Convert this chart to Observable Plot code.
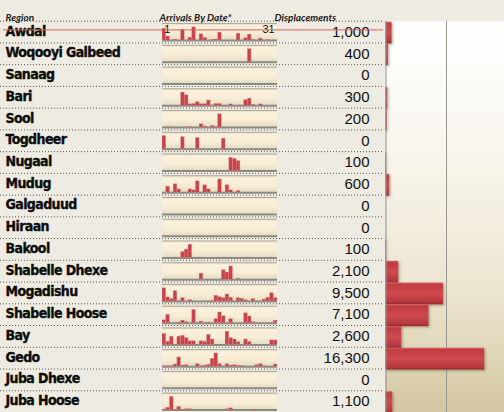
<!DOCTYPE html>
<html><head><meta charset="utf-8">
<script src="https://cdn.jsdelivr.net/npm/d3@7"></script>
<script src="https://cdn.jsdelivr.net/npm/@observablehq/plot@0.6"></script>
<style>
html,body{margin:0;padding:0;background:#eeebe2;overflow:hidden;}
#chart{position:relative;width:504px;height:412px;overflow:hidden;background:#eeebe2;}
#chart svg{position:absolute;top:0;}
</style></head><body><div id="chart"></div>
<script>
// ---------- DATA ----------
const regions = ["Awdal","Woqooyi Galbeed","Sanaag","Bari","Sool","Togdheer","Nugaal","Mudug","Galgaduud","Hiraan","Bakool","Shabelle Dhexe","Mogadishu","Shabelle Hoose","Bay","Gedo","Juba Dhexe","Juba Hoose"];
const displacements = [1000,400,0,300,200,0,100,600,0,0,100,2100,9500,7100,2600,16300,0,1100];
const days = [1,2,3,4,5,6,7,8,9,10,11,12,13,14,15,16,17,18,19,20,21,22,23,24,25,26,27,28,29,30,31];
const dayTickLabels = [1, 31];
const headers = ["Region", "Arrivals By Date*", "Displacements"];
const barGridValues = [10000];

// arrivals by date (relative bar heights read from the sparklines)
const awdal          = [90,30,0,7,0,80,0,22,100,0,48,20,0,6,8,60,0,0,0,0,52,0,18,45,6,0,15,0,5,0,0];
const woqooyiGalbeed = [0,0,0,0,0,0,0,2,0,2,0,0,0,3,0,0,0,0,0,0,0,0,0,100,0,0,0,0,0,0,0];
const sanaag         = [0,0,0,0,0,0,0,0,0,0,0,0,0,0,0,0,0,0,0,0,0,0,0,0,0,0,0,0,0,0,0];
const bari           = [0,0,0,0,0,100,80,11,14,28,12,12,40,3,14,14,0,0,11,0,3,0,43,54,8,0,11,0,0,0,0];
const sool           = [0,5,0,0,0,0,0,5,0,0,25,8,0,12,5,100,0,0,0,0,0,0,0,0,0,0,0,0,0,0,0];
const togdheer       = [100,0,0,0,0,92,0,0,0,85,0,0,0,0,0,0,80,0,0,0,0,0,0,0,0,0,0,0,0,0,0];
const nugaal         = [0,0,0,0,0,0,0,0,0,0,0,0,0,0,0,0,0,0,100,92,75,0,0,0,0,0,0,0,0,0,0];
const mudug          = [0,46,0,64,25,0,0,25,18,86,0,57,25,0,0,100,0,57,18,0,14,0,0,0,0,0,0,0,0,0,0];
const galgaduud      = [0,0,0,0,0,0,0,0,0,0,0,0,0,0,0,0,0,0,0,0,0,0,0,0,0,0,0,0,0,0,0];
const hiraan         = [0,0,0,0,0,0,0,0,0,0,0,0,0,0,0,0,0,0,0,0,0,0,0,0,0,0,0,0,0,0,0];
const bakool         = [0,0,0,0,0,45,63,100,0,0,0,0,0,0,0,0,0,0,0,0,0,0,0,0,0,0,0,0,0,0,0];
const shabelleDhexe  = [0,0,0,0,0,0,0,0,0,0,46,0,0,0,0,0,72,54,100,0,8,0,0,0,0,0,0,0,0,0,0];
const mogadishu      = [100,30,18,78,0,25,0,10,0,0,0,0,0,5,43,33,25,53,28,0,25,20,10,0,18,0,0,15,28,63,25];
const shabelleHoose  = [22,63,0,0,5,19,9,0,100,0,12,0,5,0,31,81,53,0,31,0,0,0,75,50,9,0,0,0,0,0,19];
const bay            = [83,24,62,0,62,69,52,28,28,0,28,24,76,41,0,0,0,100,52,41,21,0,41,21,0,0,0,0,0,34,34];
const gedo           = [4,4,4,16,70,8,11,0,0,19,5,8,14,59,100,19,0,19,8,11,6,6,0,0,0,11,19,5,0,0,16];
const jubaDhexe      = [0,0,0,0,0,0,0,0,0,0,0,0,0,0,0,0,0,0,0,0,0,0,0,0,0,0,0,0,0,0,0];
const jubaHoose      = [4,18,100,0,25,0,7,7,0,0,0,0,0,0,0,0,0,7,14,0,0,0,0,0,4,0,0,0,0,0,0];
const arrivalSeries = [awdal,woqooyiGalbeed,sanaag,bari,sool,togdheer,nugaal,mudug,galgaduud,hiraan,bakool,shabelleDhexe,mogadishu,shabelleHoose,bay,gedo,jubaDhexe,jubaHoose];

// ---------- TABLES ----------
const rows = regions.map((r, i) => ({region: r, i, value: displacements[i]}));
const spark = [];
regions.forEach((r, i) => {
  const s = arrivalSeries[i];
  const m = d3.max(s);
  days.forEach((d, j) => spark.push({region: r, day: d, v: s[j], norm: m > 0 ? s[j] / m : 0}));
});

// ---------- LAYOUT ----------
const H = 412, TOP = 20.7;
const chart = document.getElementById("chart");
const NS = "http://www.w3.org/2000/svg";
function addDefs(svg, html) {
  const defs = document.createElementNS(NS, "defs");
  defs.innerHTML = html;
  svg.insertBefore(defs, svg.firstChild);
}
const labelFont = "'DejaVu Sans Condensed', 'DejaVu Sans', sans-serif";
const numFont = "'Liberation Sans', Arial, sans-serif";
const headFont = "Lato, 'Open Sans', sans-serif";

// Sparkline column
const sparkPlot = Plot.plot({
  width: 115, height: H,
  marginTop: TOP, marginBottom: 0, marginLeft: 0, marginRight: 0,
  style: {background: "transparent"},
  facet: {data: spark, y: "region"},
  fy: {domain: regions, paddingInner: 0.22, paddingOuter: 0.11, round: false, axis: null, label: null},
  x: {type: "band", domain: days, padding: 0, round: false, axis: null},
  y: {domain: [0, 1.28], axis: null},
  marks: [
    Plot.frame({fill: "url(#sparkBg)", stroke: "none"}),
    Plot.ruleY([1.28], {stroke: "#a8a49a", strokeWidth: 1}),
    Plot.ruleY([0], {stroke: "#8d8a80", strokeWidth: 2}),
    Plot.barY(spark, {filter: d => d.v > 0, x: "day", y: "norm", fill: "#c8444a", stroke: "#e6a19f", strokeWidth: 0.4, strokeOpacity: 0.6}),
    Plot.text(spark, {filter: d => d.region === regions[0] && d.day === dayTickLabels[0], x: "day", text: d => String(d.day),
      frameAnchor: "top", lineAnchor: "top", textAnchor: "start", dy: 1.5, dx: 0, fontSize: 11, fontFamily: numFont, fill: "#111"}),
    Plot.text(spark, {filter: d => d.region === regions[0] && d.day === dayTickLabels[1], x: "day", text: d => String(d.day),
      frameAnchor: "top", lineAnchor: "top", textAnchor: "end", dy: 1.5, dx: -1, fontSize: 11, fontFamily: numFont, fill: "#111"})
  ]
});
addDefs(sparkPlot, `<linearGradient id="sparkBg" x1="0" y1="0" x2="0" y2="1">
  <stop offset="0" stop-color="#efe3c6"/><stop offset="0.15" stop-color="#fbf1dc"/>
  <stop offset="0.6" stop-color="#f7ecd5"/><stop offset="0.88" stop-color="#e9e0c8"/>
  <stop offset="1" stop-color="#d8d0ba"/></linearGradient>`);
sparkPlot.style.left = "162px";

// Displacement bar column
const barPlot = Plot.plot({
  width: 119, height: H,
  marginTop: TOP, marginBottom: 0, marginLeft: 0, marginRight: 0,
  style: {background: "transparent"},
  x: {domain: [0, 20000], range: [0.5, 121.5], axis: null},
  y: {domain: regions, padding: 0, round: false, axis: null},
  marks: [
    Plot.frame({fill: "url(#panelBg)", stroke: "none"}),
    Plot.ruleX(barGridValues, {stroke: "#9a978f", strokeWidth: 1}),
    Plot.barX(rows, {filter: d => d.value > 0, x: "value", y: "region", fill: "url(#barGrad)", insetTop: 1, insetBottom: -1}),
    Plot.ruleX([0], {stroke: "#8e8c86", strokeWidth: 1})
  ]
});
addDefs(barPlot, `<linearGradient id="panelBg" x1="0" y1="0" x2="0" y2="1">
  <stop offset="0" stop-color="#ffffff"/><stop offset="0.35" stop-color="#f8f5ec"/>
  <stop offset="0.7" stop-color="#ebe4cf"/><stop offset="1" stop-color="#d3c6a1"/></linearGradient>
  <linearGradient id="barGrad" x1="0" y1="0" x2="0" y2="1">
  <stop offset="0" stop-color="#d65a5e"/><stop offset="0.1" stop-color="#c13a40"/>
  <stop offset="0.5" stop-color="#cf4a4f"/><stop offset="0.9" stop-color="#b6383e"/>
  <stop offset="1" stop-color="#8e2a2f"/></linearGradient>
  <filter id="barShadow" filterUnits="userSpaceOnUse" x="-20" y="-20" width="200" height="500">
  <feDropShadow dx="1.2" dy="1.2" stdDeviation="0.9" flood-color="#3a2a10" flood-opacity="0.4"/></filter>`);
d3.select(barPlot).selectAll("g[aria-label=bar] rect").attr("filter", "url(#barShadow)");
barPlot.style.left = "385px";

// Labels, numbers and dotted separators (top layer)
const mainPlot = Plot.plot({
  width: 504, height: H,
  marginTop: TOP, marginBottom: 0, marginLeft: 0, marginRight: 0,
  style: {background: "transparent"},
  y: {domain: [0, regions.length], range: [TOP, H], axis: null},
  marks: [
    Plot.ruleY(d3.range(regions.length + 1), {stroke: "#55554f", strokeDasharray: "1,2", strokeWidth: 1, insetRight: 121}),
    Plot.text(rows, {y: d => d.i + 0.5, text: "region", frameAnchor: "left", dx: 5, dy: -1,
      fontSize: 14, fontWeight: "bold", fontFamily: labelFont, fill: "#0d0d0d", stroke: "#0d0d0d", strokeWidth: 0.35}),
    Plot.text(rows, {y: d => d.i + 0.5, text: d => d3.format(",")(d.value), frameAnchor: "right", dx: -135,
      fontSize: 15, fontFamily: numFont, fill: "#111"}),
    Plot.ruleY([0.4], {stroke: "#d9605c", strokeWidth: 1, insetLeft: 3, insetRight: 121}),
    Plot.text([headers[0]], {text: d => d, frameAnchor: "top-left", dx: 5, dy: -7.5, fontSize: 10, fontWeight: "bold", fontStyle: "italic", fontFamily: headFont, fill: "#1a1a1a"}),
    Plot.text([headers[1]], {text: d => d, frameAnchor: "top-left", dx: 159, dy: -7.5, fontSize: 10, fontWeight: "bold", fontStyle: "italic", fontFamily: headFont, fill: "#1a1a1a"}),
    Plot.text([headers[2]], {text: d => d, frameAnchor: "top-left", dx: 274, dy: -7.5, fontSize: 10, fontWeight: "bold", fontStyle: "italic", fontFamily: headFont, fill: "#1a1a1a"})
  ]
});
d3.select(mainPlot).selectAll("g[aria-label=text]").filter((d, i) => i === 0).style("letter-spacing", "-0.6px");
mainPlot.style.left = "0px";

chart.append(sparkPlot, barPlot, mainPlot);
</script>
</body></html>
